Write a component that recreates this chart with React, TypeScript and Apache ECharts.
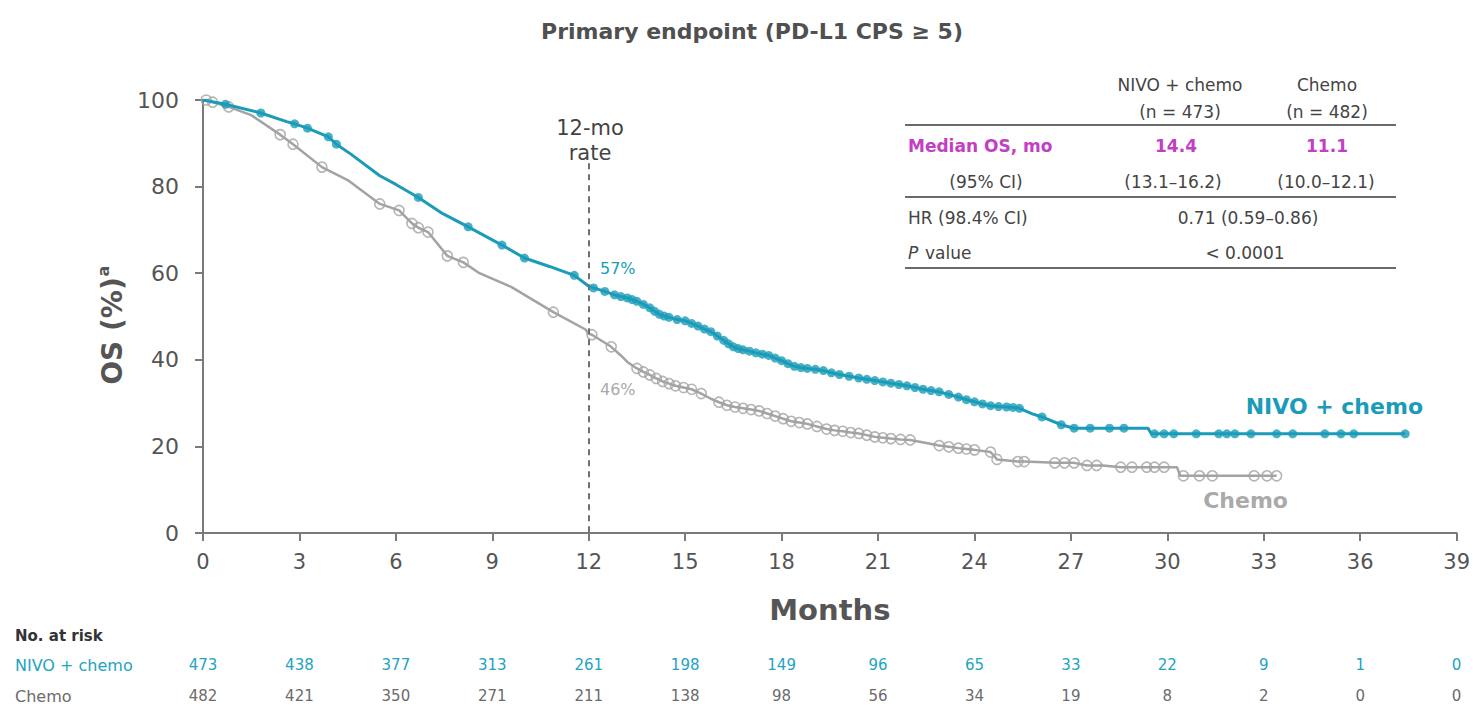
import React, { useEffect, useRef } from "react";
import * as echarts from "echarts";

// Kaplan–Meier overall survival, rows are [month, OS %, censored (1) or event (0)]
const nivoCurve: [number, number, number][] = [
  [0, 100, 0], [0.7, 99.0, 1], [1.8, 97.0, 1], [2.6, 95.0, 0], [2.85, 94.5, 1],
  [3.25, 93.5, 1], [3.9, 91.5, 1], [4.15, 89.8, 1], [4.6, 87.5, 0], [5.5, 82.5, 0],
  [6.0, 80.5, 0], [6.7, 77.5, 1], [7.4, 74.0, 0], [8.25, 70.7, 1], [9.3, 66.5, 1],
  [10.0, 63.5, 1], [10.8, 61.5, 0], [11.55, 59.5, 1], [12.0, 57.0, 0], [12.15, 56.6, 1],
  [12.5, 55.8, 1], [12.8, 55.0, 1], [13.0, 54.6, 1], [13.2, 54.3, 1], [13.35, 53.9, 1],
  [13.5, 53.5, 1], [13.7, 52.8, 1], [13.9, 52.0, 1], [14.05, 51.2, 1], [14.2, 50.5, 1],
  [14.35, 50.1, 1], [14.5, 49.8, 1], [14.75, 49.3, 1], [15.0, 49.0, 1], [15.2, 48.4, 1],
  [15.4, 47.8, 1], [15.6, 47.1, 1], [15.8, 46.5, 1], [16.0, 45.5, 1], [16.2, 44.5, 1],
  [16.35, 43.7, 1], [16.5, 43.0, 1], [16.65, 42.6, 1], [16.8, 42.3, 1], [17.0, 42.0, 1],
  [17.2, 41.6, 1], [17.4, 41.3, 1], [17.6, 41.0, 1], [17.8, 40.4, 1], [18.0, 39.8, 1],
  [18.2, 39.1, 1], [18.4, 38.5, 1], [18.6, 38.2, 1], [18.8, 38.0, 1], [19.05, 37.8, 1],
  [19.3, 37.5, 1], [19.55, 37.0, 1], [19.8, 36.6, 1], [20.1, 36.2, 1], [20.4, 35.8, 1],
  [20.65, 35.5, 1], [20.9, 35.2, 1], [21.15, 34.9, 1], [21.4, 34.6, 1], [21.65, 34.3, 1],
  [21.9, 34.0, 1], [22.15, 33.6, 1], [22.4, 33.2, 1], [22.65, 32.9, 1], [22.9, 32.6, 1],
  [23.2, 32.0, 1], [23.5, 31.4, 1], [23.75, 30.8, 1], [24.0, 30.3, 1], [24.25, 29.8, 1],
  [24.5, 29.4, 1], [24.75, 29.2, 1], [25.0, 29.1, 1], [25.2, 29.0, 1], [25.4, 28.8, 1],
  [25.8, 27.5, 0], [26.1, 26.8, 1], [26.7, 25.0, 1], [27.1, 24.2, 1], [27.6, 24.2, 1],
  [28.2, 24.2, 1], [28.65, 24.2, 1], [29.4, 24.2, 0], [29.5, 22.9, 0], [29.6, 22.9, 1],
  [29.9, 22.9, 1], [30.2, 22.9, 1], [30.9, 22.9, 1], [31.6, 22.9, 1], [31.85, 22.9, 1],
  [32.1, 22.9, 1], [32.6, 22.9, 1], [33.4, 22.9, 1], [33.9, 22.9, 1], [34.9, 22.9, 1],
  [35.4, 22.9, 1], [35.8, 22.9, 1], [37.4, 22.9, 1],
];

const chemoCurve: [number, number, number][] = [
  [0, 100, 0], [0.1, 100, 1], [0.3, 99.5, 1], [0.8, 98.4, 1], [1.5, 96.5, 0],
  [2.4, 92.0, 1], [2.8, 89.8, 1], [3.7, 84.5, 1], [4.5, 81.5, 0], [5.5, 76.0, 1],
  [6.1, 74.5, 1], [6.5, 71.5, 1], [6.7, 70.5, 1], [7.0, 69.5, 1], [7.6, 64.0, 1],
  [8.1, 62.5, 1], [8.6, 60.0, 0], [9.6, 56.8, 0], [10.9, 51.0, 1], [11.9, 47.0, 0],
  [12.0, 46.0, 0], [12.1, 45.8, 1], [12.7, 43.0, 1], [13.0, 41.0, 0], [13.2, 39.5, 0],
  [13.5, 38.0, 1], [13.7, 37.2, 1], [13.9, 36.5, 1], [14.1, 35.7, 1], [14.3, 35.0, 1],
  [14.5, 34.5, 1], [14.7, 34.0, 1], [14.95, 33.6, 1], [15.2, 33.2, 1], [15.5, 32.2, 1],
  [15.8, 31.0, 0], [16.05, 30.2, 1], [16.3, 29.5, 1], [16.55, 29.1, 1], [16.8, 28.8, 1],
  [17.05, 28.5, 1], [17.3, 28.2, 1], [17.55, 27.6, 1], [17.8, 27.0, 1], [18.05, 26.4, 1],
  [18.3, 25.8, 1], [18.55, 25.5, 1], [18.8, 25.2, 1], [19.1, 24.6, 1], [19.4, 24.0, 1],
  [19.65, 23.7, 1], [19.9, 23.5, 1], [20.15, 23.2, 1], [20.4, 23.0, 1], [20.65, 22.6, 1],
  [20.9, 22.2, 1], [21.15, 22.0, 1], [21.4, 21.8, 1], [21.7, 21.6, 1], [22.0, 21.5, 1],
  [22.5, 20.8, 0], [22.9, 20.2, 1], [23.2, 19.9, 1], [23.5, 19.6, 1], [23.75, 19.4, 1],
  [24.0, 19.2, 1], [24.5, 18.7, 1], [24.7, 17.0, 1], [25.35, 16.5, 1], [25.55, 16.5, 1],
  [26.5, 16.2, 1], [26.8, 16.2, 1], [27.1, 16.2, 1], [27.5, 15.6, 1], [27.8, 15.6, 1],
  [28.0, 15.6, 0], [28.55, 15.2, 1], [28.9, 15.2, 1], [29.36, 15.2, 1], [29.6, 15.2, 1],
  [29.9, 15.2, 1], [30.3, 15.2, 0], [30.4, 13.2, 0], [30.5, 13.2, 1], [31.0, 13.2, 1],
  [31.4, 13.2, 1], [32.7, 13.2, 1], [33.1, 13.2, 1], [33.4, 13.2, 1],
];

const monthTicks = [0, 3, 6, 9, 12, 15, 18, 21, 24, 27, 30, 33, 36, 39];
const riskNivo = [473, 438, 377, 313, 261, 198, 149, 96, 65, 33, 22, 9, 1, 0];
const riskChemo = [482, 421, 350, 271, 211, 138, 98, 56, 34, 19, 8, 2, 0, 0];

const landmarkMonth = 12;
const landmarkNivo = 57;
const landmarkChemo = 46;

const tableHeader = ["NIVO + chemo", "(n = 473)", "Chemo", "(n = 482)"];
const medianOS = ["14.4", "11.1"];
const medianCI = ["(13.1–16.2)", "(10.0–12.1)"];
const hazardRatio = "0.71 (0.59–0.86)";
const pValue = "< 0.0001";

const TEAL = "#1a9cb8";
const GREY = "#a3a3a3";
const INK = "#444444";
const MAGENTA = "#c23ec4";
const FONT = "'DejaVu Sans', Verdana, sans-serif";

function riskLabel(list: number[]) {
  return (v: number) => {
    const i = monthTicks.indexOf(v);
    return i >= 0 ? String(list[i]) : "";
  };
}

function riskAxis(list: number[], color: string, offset: number) {
  return {
    type: "value",
    gridIndex: 0,
    position: "bottom",
    offset,
    min: 0,
    max: 39,
    interval: 3,
    axisLine: { show: false },
    axisTick: { show: false },
    splitLine: { show: false },
    axisLabel: {
      show: true,
      showMinLabel: true,
      showMaxLabel: true,
      margin: 0,
      fontSize: 15,
      color,
      fontFamily: FONT,
      formatter: riskLabel(list),
    },
  };
}

function txt(
  x: number,
  y: number,
  text: string,
  opts: { size?: number; color?: string; weight?: string; align?: string; style?: string; lh?: number } = {}
) {
  return {
    type: "text",
    x,
    y,
    silent: true,
    style: {
      text,
      fontSize: opts.size ?? 16,
      fontWeight: opts.weight ?? "normal",
      fontStyle: opts.style ?? "normal",
      fontFamily: FONT,
      fill: opts.color ?? INK,
      align: opts.align ?? "center",
      verticalAlign: "middle",
      lineHeight: opts.lh,
    },
  };
}

function hline(y: number) {
  return {
    type: "line",
    silent: true,
    shape: { x1: 905, y1: y, x2: 1396, y2: y },
    style: { stroke: "#6a6a6a", lineWidth: 2 },
  };
}

export default function App() {
  const ref = useRef<HTMLDivElement>(null);

  useEffect(() => {
    if (!ref.current) return;
    const chart = echarts.init(ref.current, undefined, { renderer: "svg" });

    const nivoLine = nivoCurve.map((r) => [r[0], r[1]]);
    const chemoLine = chemoCurve.map((r) => [r[0], r[1]]);
    const nivoCens = nivoCurve.filter((r) => r[2] === 1).map((r) => [r[0], r[1]]);
    const chemoCens = chemoCurve.filter((r) => r[2] === 1).map((r) => [r[0], r[1]]);

    chart.setOption({
      animation: false,
      textStyle: { fontFamily: FONT },
      grid: { left: 203, right: 8, top: 100, bottom: 174, containLabel: false },
      xAxis: [
        {
          type: "value",
          min: 0,
          max: 39,
          interval: 3,
          name: "Months",
          nameLocation: "middle",
          nameGap: 77,
          nameTextStyle: {
            fontSize: 29,
            fontWeight: "bold",
            color: "#555",
            fontFamily: FONT,
            verticalAlign: "middle",
          },
          axisLine: { lineStyle: { color: "#7a7a7a", width: 2 } },
          axisTick: { show: true, length: 8, lineStyle: { color: "#7a7a7a", width: 2 } },
          axisLabel: { fontSize: 21, color: "#555", margin: 18, showMaxLabel: true, fontFamily: FONT },
          splitLine: { show: false },
        },
        riskAxis(riskNivo, "#22a3bf", 124),
        riskAxis(riskChemo, "#6b6b6b", 155),
      ],
      yAxis: {
        type: "value",
        min: 0,
        max: 100,
        interval: 20,
        axisLine: { show: true, lineStyle: { color: "#7a7a7a", width: 2 } },
        axisTick: { show: true, length: 8, lineStyle: { color: "#7a7a7a", width: 2 } },
        axisLabel: { fontSize: 22, color: "#555", margin: 24, fontFamily: FONT },
        splitLine: { show: false },
      },
      series: [
        {
          name: "Chemo",
          type: "line",
          data: chemoLine,
          showSymbol: false,
          symbol: "none",
          lineStyle: { color: GREY, width: 2.5 },
          z: 2,
        },
        {
          name: "Chemo censored",
          type: "scatter",
          data: chemoCens,
          symbol: "circle",
          symbolSize: 10,
          itemStyle: { color: "rgba(255,255,255,0)", borderColor: GREY, borderWidth: 1.6 },
          z: 3,
        },
        {
          name: "NIVO + chemo",
          type: "line",
          data: nivoLine,
          showSymbol: false,
          symbol: "none",
          lineStyle: { color: TEAL, width: 3 },
          z: 4,
          markLine: {
            silent: true,
            symbol: "none",
            lineStyle: { color: "#707070", width: 2, type: [6, 5] },
            label: { show: false },
            data: [[{ coord: [landmarkMonth, 85.4] }, { coord: [landmarkMonth, 0] }]],
          },
        },
        {
          name: "NIVO censored",
          type: "scatter",
          data: nivoCens,
          symbol: "circle",
          symbolSize: 9,
          itemStyle: { color: TEAL },
          z: 5,
        },
      ],
      graphic: [
        txt(752, 31, "Primary endpoint (PD-L1 CPS ≥ 5)", { size: 22, weight: "bold", color: "#505050" }),
        {
          type: "group",
          x: 112,
          y: 331,
          rotation: Math.PI / 2,
          children: [
            txt(0, 0, "OS (%)", { size: 28, weight: "bold", color: "#555" }),
            txt(60, -9, "a", { size: 16, weight: "bold", color: "#555" }),
          ],
        },
        txt(590, 140, "12-mo\nrate", { size: 21, color: INK, lh: 25 }),
        txt(600, 268, `${landmarkNivo}%`, { size: 16, color: TEAL, align: "left" }),
        txt(600, 389, `${landmarkChemo}%`, { size: 16, color: "#aaa", align: "left" }),
        txt(1423, 406, "NIVO + chemo", { size: 22, weight: "bold", color: TEAL, align: "right" }),
        txt(1288, 500, "Chemo", { size: 22, weight: "bold", color: "#aaaaaa", align: "right" }),
        // summary table
        txt(1180, 85, tableHeader[0], { size: 17 }),
        txt(1180, 112, tableHeader[1], { size: 17 }),
        txt(1327, 85, tableHeader[2], { size: 17 }),
        txt(1327, 112, tableHeader[3], { size: 17 }),
        hline(125),
        txt(908, 146, "Median OS, mo", { size: 17, weight: "bold", color: MAGENTA, align: "left" }),
        txt(1176, 146, medianOS[0], { size: 17, weight: "bold", color: MAGENTA }),
        txt(1327, 146, medianOS[1], { size: 17, weight: "bold", color: MAGENTA }),
        txt(986, 182, "(95% CI)", { size: 17 }),
        txt(1173, 182, medianCI[0], { size: 17 }),
        txt(1326, 182, medianCI[1], { size: 17 }),
        hline(197),
        txt(908, 218, "HR (98.4% CI)", { size: 17, align: "left" }),
        txt(1248, 218, hazardRatio, { size: 17 }),
        txt(908, 253, "P", { size: 17, style: "italic", align: "left" }),
        txt(925, 253, "value", { size: 17, align: "left" }),
        txt(1245, 253, pValue, { size: 17 }),
        hline(268),
        // number at risk
        txt(15, 636, "No. at risk", { size: 15, weight: "bold", color: "#333", align: "left" }),
        txt(15, 665, "NIVO + chemo", { size: 16, color: "#22a3bf", align: "left" }),
        txt(15, 696, "Chemo", { size: 16, color: "#6b6b6b", align: "left" }),
      ],
    });

    return () => chart.dispose();
  }, []);

  return <div ref={ref} style={{ width: 1473, height: 707, position: "absolute", left: 0, top: 0 }} />;
}
